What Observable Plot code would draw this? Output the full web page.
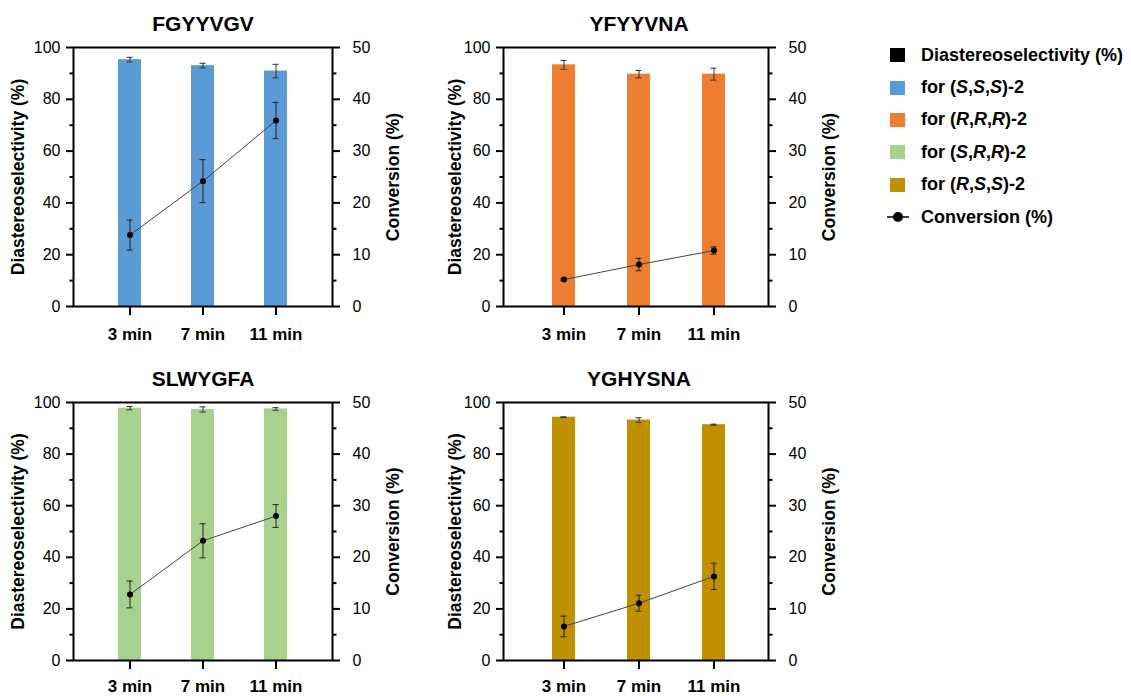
<!DOCTYPE html>
<html>
<head>
<meta charset="utf-8">
<script src="https://cdn.jsdelivr.net/npm/d3@7"></script>
<script src="https://cdn.jsdelivr.net/npm/@observablehq/plot@0.6"></script>
<style>
  html, body { margin: 0; padding: 0; background: #fff; }
  #root { position: relative; width: 1131px; height: 696px; overflow: hidden; font-family: "Liberation Sans", Arial, sans-serif; color: #000; }
  .panel { position: absolute; }
  .legend { position: absolute; left: 887px; top: 39px; font-family: "Liberation Sans", Arial, sans-serif; font-weight: bold; font-size: 18px; }
  .legend .row { position: relative; height: 32.4px; display: flex; align-items: center; }
  .legend .sw { width: 15px; height: 14px; margin-left: 3px; margin-right: 16px; }
</style>
</head>
<body>
<div id="root"></div>
<script>
// ---- data ----
const times = ["3 min", "7 min", "11 min"];
const peptides = ["FGYYVGV", "YFYYVNA", "SLWYGFA", "YGHYSNA"];
const barColors = ["#5b9bd5", "#ed7d31", "#a9d18e", "#bf9000"];
const legendLabels = ["for (<i>S</i>,<i>S</i>,<i>S</i>)-2", "for (<i>R</i>,<i>R</i>,<i>R</i>)-2", "for (<i>S</i>,<i>R</i>,<i>R</i>)-2", "for (<i>R</i>,<i>S</i>,<i>S</i>)-2"];
// Diastereoselectivity (%) and its error
const dsFGYYVGV = [95.3, 93.0, 90.9];
const dsYFYYVNA = [93.3, 89.7, 89.7];
const dsSLWYGFA = [97.8, 97.3, 97.5];
const dsYGHYSNA = [94.3, 93.2, 91.4];
const dsErrFGYYVGV = [0.9, 0.9, 2.6];
const dsErrYFYYVNA = [1.7, 1.4, 2.3];
const dsErrSLWYGFA = [0.65, 1.0, 0.5];
const dsErrYGHYSNA = [0.15, 0.9, 0.2];
// Conversion (%) and its error
const convFGYYVGV = [13.8, 24.2, 35.9];
const convYFYYVNA = [5.2, 8.1, 10.8];
const convSLWYGFA = [12.8, 23.2, 28.0];
const convYGHYSNA = [6.6, 11.1, 16.3];
const convErrFGYYVGV = [2.9, 4.15, 3.5];
const convErrYFYYVNA = [0.2, 1.2, 0.7];
const convErrSLWYGFA = [2.6, 3.3, 2.2];
const convErrYGHYSNA = [2.0, 1.55, 2.55];
// axis ticks
const dsTicks = [0, 20, 40, 60, 80, 100];
const dsMinorTicks = [10, 30, 50, 70, 90];
const convTicks = [0, 10, 20, 30, 40, 50];
const convMinorTicks = [5, 15, 25, 35, 45];
const dsMax = 100, convMax = 50;
const k = dsMax / convMax; // right axis -> left axis units

const dsAll = [dsFGYYVGV, dsYFYYVNA, dsSLWYGFA, dsYGHYSNA];
const dsErrAll = [dsErrFGYYVGV, dsErrYFYYVNA, dsErrSLWYGFA, dsErrYGHYSNA];
const convAll = [convFGYYVGV, convYFYYVNA, convSLWYGFA, convYGHYSNA];
const convErrAll = [convErrFGYYVGV, convErrYFYYVNA, convErrSLWYGFA, convErrYGHYSNA];

// ---- layout ----
const layout = [
  {left: 0,   top: 0,   w: 430, h: 355, mt: 47, ml: 73, mr: 98, mb: 49, lab: 55, align: 0.5,  xpad: 12},
  {left: 430, top: 0,   w: 430, h: 355, mt: 47, ml: 73, mr: 92, mb: 49, lab: 48, align: 0.53, xpad: 12},
  {left: 0,   top: 355, w: 430, h: 341, mt: 47, ml: 73, mr: 98, mb: 36, lab: 55, align: 0.5,  xpad: 10},
  {left: 430, top: 355, w: 430, h: 341, mt: 47, ml: 73, mr: 92, mb: 36, lab: 48, align: 0.53, xpad: 10}
];
const FONT = "Liberation Sans, Arial, sans-serif";
const root = document.getElementById("root");

peptides.forEach((pep, i) => {
  const L = layout[i];
  const rows = times.map((t, j) => ({
    time: t, ds: dsAll[i][j], dsErr: dsErrAll[i][j], conv: convAll[i][j], convErr: convErrAll[i][j]
  }));
  const plot = Plot.plot({
    width: L.w, height: L.h,
    marginTop: L.mt, marginLeft: L.ml, marginRight: L.mr, marginBottom: L.mb,
    style: {fontFamily: FONT, color: "#000", background: "transparent", overflow: "visible"},
    x: {domain: times, type: "band", paddingInner: 0.69, paddingOuter: 0.6, align: L.align, axis: null},
    y: {domain: [0, dsMax], axis: null},
    marks: [
      Plot.barY(rows, {x: "time", y: "ds", fill: barColors[i]}),
      Plot.ruleX(rows, {x: "time", y1: d => d.ds - d.dsErr, y2: d => d.ds + d.dsErr, stroke: "#333", strokeWidth: 1}),
      Plot.tickY(rows, {x: "time", y: d => d.ds - d.dsErr, stroke: "#333", strokeWidth: 1, insetLeft: 8.5, insetRight: 8.5}),
      Plot.tickY(rows, {x: "time", y: d => d.ds + d.dsErr, stroke: "#333", strokeWidth: 1, insetLeft: 8.5, insetRight: 8.5}),
      Plot.line(rows, {x: "time", y: d => d.conv * k, stroke: "#444", strokeWidth: 1}),
      Plot.ruleX(rows, {x: "time", y1: d => (d.conv - d.convErr) * k, y2: d => (d.conv + d.convErr) * k, stroke: "#222", strokeWidth: 1}),
      Plot.tickY(rows, {x: "time", y: d => (d.conv - d.convErr) * k, stroke: "#222", strokeWidth: 1, insetLeft: 8.5, insetRight: 8.5}),
      Plot.tickY(rows, {x: "time", y: d => (d.conv + d.convErr) * k, stroke: "#222", strokeWidth: 1, insetLeft: 8.5, insetRight: 8.5}),
      Plot.dot(rows, {x: "time", y: d => d.conv * k, r: 3, fill: "#000"}),
      Plot.frame({stroke: "#000", strokeWidth: 2}),
      // left axis
      Plot.axisY({ticks: dsTicks, tickSize: 7, tickPadding: 6, strokeWidth: 2, fontSize: 16, label: null}),
      Plot.axisY({ticks: dsMinorTicks, tickSize: 3.5, tickPadding: 0, strokeWidth: 2, tickFormat: () => "", label: null}),
      // right axis (conversion)
      Plot.axisY({anchor: "right", ticks: convTicks.map(t => t * k), tickFormat: d => d / k, tickSize: 7, tickPadding: 13, strokeWidth: 2, fontSize: 16, label: null}),
      Plot.axisY({anchor: "right", ticks: convMinorTicks.map(t => t * k), tickFormat: () => "", tickSize: 3.5, tickPadding: 0, strokeWidth: 2, label: null}),
      // x axis
      Plot.axisX({tickSize: 9, tickPadding: L.xpad, strokeWidth: 2, fontSize: 17, fontWeight: "bold", label: null}),
      // axis titles
      Plot.text(["Diastereoselectivity (%)"], {frameAnchor: "left", rotate: -90, dx: -L.lab, textAnchor: "middle", lineAnchor: "middle", fontWeight: "bold", fontSize: 17.5}),
      Plot.text(["Conversion (%)"], {frameAnchor: "right", rotate: -90, dx: 61, textAnchor: "middle", lineAnchor: "middle", fontWeight: "bold", fontSize: 17.5}),
      // panel title, centred over the middle time point
      Plot.text([{t: times[1], label: pep}], {x: "t", text: "label", frameAnchor: "top", dy: -23, lineAnchor: "middle", fontWeight: "bold", fontSize: 21})
    ]
  });
  plot.classList.add("panel");
  plot.style.left = L.left + "px";
  plot.style.top = L.top + "px";
  root.appendChild(plot);
});

// ---- legend ----
const legend = document.createElement("div");
legend.className = "legend";
let html = `<div class="row"><div class="sw" style="background:#000"></div><span>Diastereoselectivity (%)</span></div>`;
legendLabels.forEach((lab, i) => {
  html += `<div class="row"><div class="sw" style="background:${barColors[i]}"></div><span>${lab}</span></div>`;
});
html += `<div class="row"><svg width="22" height="14" style="margin-right:12px"><line x1="0" x2="22" y1="7" y2="7" stroke="#000" stroke-width="1.5"/><circle cx="11" cy="7" r="5" fill="#000"/></svg><span>Conversion (%)</span></div>`;
legend.innerHTML = html;
root.appendChild(legend);
</script>
</body>
</html>
